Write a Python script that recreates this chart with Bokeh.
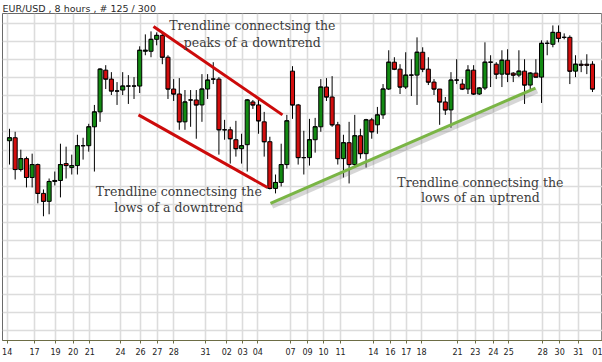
from bokeh.plotting import figure
from bokeh.models import Range1d, FixedTicker
from bokeh.core.properties import value
from bokeh.embed import file_html
from bokeh.resources import INLINE

# EUR/USD 8-hour candles (price in chart units)
open_ = [201, 204, 172, 183, 164, 177, 148, 140, 160, 161,
         178, 174, 176, 196, 196, 215, 230, 272, 263, 251,
         252, 256, 256, 256, 291, 291, 303, 307, 285, 253,
         248, 220, 242, 242, 237, 253, 263, 263, 212, 212,
         202, 193, 197, 240, 237, 220, 200, 153, 159, 177,
         271, 237, 184, 184, 202, 215, 255, 245, 217, 183,
         199, 177, 206, 188, 222, 217, 227, 253, 280, 273,
         255, 267, 267, 290, 273, 260, 253, 240, 232, 262,
         258, 253, 272, 248, 254, 280, 278, 268, 282, 269,
         267, 271, 257, 269, 265, 299, 298, 310, 305, 305,
         271, 278, 278, 278]
close = [204, 172, 183, 164, 177, 148, 140, 160, 161, 177,
         176, 176, 196, 196, 215, 230, 273, 263, 251, 251,
         256, 256, 256, 292, 292, 303, 307, 285, 253, 248,
         220, 240, 242, 237, 253, 262, 263, 212, 212, 203,
         193, 196, 242, 237, 221, 200, 153, 159, 177, 221,
         237, 184, 184, 202, 215, 255, 245, 217, 183, 199,
         177, 206, 188, 222, 210, 227, 253, 280, 273, 255,
         267, 267, 290, 273, 260, 253, 240, 232, 262, 262,
         253, 272, 248, 254, 280, 280, 268, 282, 268, 267,
         271, 257, 269, 265, 299, 299, 310, 304, 305, 271,
         278, 277, 277, 253]
high = [213, 210, 192, 185, 188, 178, 152, 163, 170, 198,
        195, 187, 207, 204, 218, 237, 274, 277, 270, 260,
        270, 267, 265, 296, 308, 311, 310, 310, 287, 263,
        264, 252, 252, 252, 268, 268, 280, 265, 222, 215,
        221, 208, 243, 242, 242, 230, 205, 167, 198, 227,
        276, 238, 211, 223, 224, 263, 264, 266, 220, 207,
        220, 227, 213, 223, 224, 235, 258, 292, 285, 278,
        290, 283, 305, 295, 285, 263, 253, 245, 270, 283,
        263, 277, 277, 255, 300, 287, 280, 292, 293, 270,
        292, 283, 270, 283, 302, 302, 317, 317, 309, 307,
        287, 282, 288, 281]
low = [177, 162, 170, 154, 154, 138, 125, 127, 156, 144,
       163, 167, 167, 182, 190, 170, 220, 253, 247, 237,
       247, 238, 243, 249, 287, 285, 297, 278, 243, 241,
       212, 212, 215, 203, 220, 243, 258, 187, 202, 178,
       185, 178, 170, 233, 208, 185, 152, 148, 155, 173,
       223, 177, 167, 176, 189, 210, 241, 215, 177, 164,
       158, 175, 183, 174, 203, 208, 223, 252, 272, 248,
       253, 246, 237, 270, 257, 247, 217, 227, 214, 258,
       252, 248, 247, 247, 252, 255, 263, 255, 260, 260,
       265, 238, 253, 265, 239, 287, 295, 300, 303, 258,
       265, 270, 268, 250]

# x-axis day labels and where they sit (in candle numbers)
tick_pos = [-0.41, 4.42, 8.13, 11.25, 14.19, 19.61, 23.14, 26.1, 29.03, 34.63,
            38.4, 41.2, 43.87, 49.65, 52.65, 55.48, 58.48, 64.3, 67.3, 70.1,
            72.8, 79.15, 82.3, 85.5, 88.2, 94.2, 97.2, 100.5, 104.75]
tick_labels = ["14", "17", "19", "20", "21", "24", "26", "27", "28", "31",
               "02", "03", "04", "07", "09", "10", "11", "14", "16", "17",
               "18", "21", "23", "24", "25", "28", "30", "31", "01"]

# trendlines (candle number, price)
down_peaks_x = [25.44, 48.23]
down_peaks_y = [316, 227]
down_lows_x = [22.79, 45.58]
down_lows_y = [227, 154]
up_lows_x = [46.11, 92.93]
up_lows_y = [138, 254]

note_text = ["Trendline connectsing the", "peaks of a downtrend",
             "Trendline connectsing the", "lows of a downtrend",
             "Trendline connectsing the", "lows of an uptrend"]
note_x = [42.9, 42.9, 29.9, 29.9, 83.2, 83.2]
note_y = [317, 300, 150, 134, 159, 144]

n = len(open_)
xs = list(range(n))
is_up = [c > o for o, c in zip(open_, close)]
body_color = ["#128a12" if u else "#d30e0e" for u in is_up]
body_top = [max(o, c) for o, c in zip(open_, close)]
body_bot = [min(o, c) for o, c in zip(open_, close)]
hw = 0.36

p = figure(width=602, height=362, output_backend="svg", toolbar_location=None,
           x_range=Range1d(-1.237, 104.77), y_range=Range1d(0, 329),
           y_axis_location=None, min_border_left=2, min_border_right=0,
           min_border_top=11, min_border_bottom=22)
p.background_fill_color = "white"
p.border_fill_color = "white"
p.outline_line_color = "#6a6a6a"
p.outline_line_width = 1

p.title.text = "EUR/USD , 8 hours , # 125 / 300"
p.title.text_font = "DejaVu Sans"
p.title.text_font_size = "9.5px"
p.title.text_font_style = "normal"
p.title.text_color = "#2a2a2a"
p.title.standoff = 0
p.title.offset = 0

ticker = FixedTicker(ticks=tick_pos)
p.xaxis.ticker = ticker
p.xaxis.major_label_overrides = {t: l for t, l in zip(tick_pos, tick_labels)}
p.xaxis.axis_line_color = "#6d6d45"
p.xaxis.major_tick_line_color = "#6d6d45"
p.xaxis.major_tick_out = 3
p.xaxis.major_tick_in = 0
p.xaxis.minor_tick_line_color = None
p.xaxis.major_label_text_font = "DejaVu Sans"
p.xaxis.major_label_text_font_size = "8px"
p.xaxis.major_label_text_color = "#222222"
p.xaxis.major_label_standoff = 4

p.xgrid.ticker = ticker
p.ygrid.ticker = FixedTicker(ticks=[9.6 + 18.2 * k for k in range(18)])
for g in (p.xgrid, p.ygrid):
    g.grid_line_color = "#dcdcdc"
    g.grid_line_width = 1.6

# wicks
p.segment(x0=xs, y0=high, x1=xs, y1=low, line_color="black", line_width=1)
# bodies
p.vbar(x=xs, width=2 * hw, top=body_top, bottom=body_bot,
       fill_color=body_color, line_color="black", line_width=1)
# close ticks (make dojis visible)
p.segment(x0=[x - hw for x in xs], y0=close, x1=[x + hw for x in xs], y1=close,
          line_color="black", line_width=1)

# trendlines
p.line(down_peaks_x, down_peaks_y, line_color="#cc0a0a", line_width=3)
p.line(down_lows_x, down_lows_y, line_color="#cc0a0a", line_width=3)
p.line([x + 0.3 for x in up_lows_x], [y - 3 for y in up_lows_y],
       line_color="#777777", line_alpha=0.3, line_width=5)
p.line(up_lows_x, up_lows_y, line_color="#7ab545", line_width=3)

p.text(x=note_x, y=note_y, text=note_text, text_font=value("DejaVu Serif"),
       text_font_size="12.5px", text_align="center", text_baseline="middle",
       text_color="#3c3c3c")

open("out.html", "w").write(file_html(p, INLINE))
